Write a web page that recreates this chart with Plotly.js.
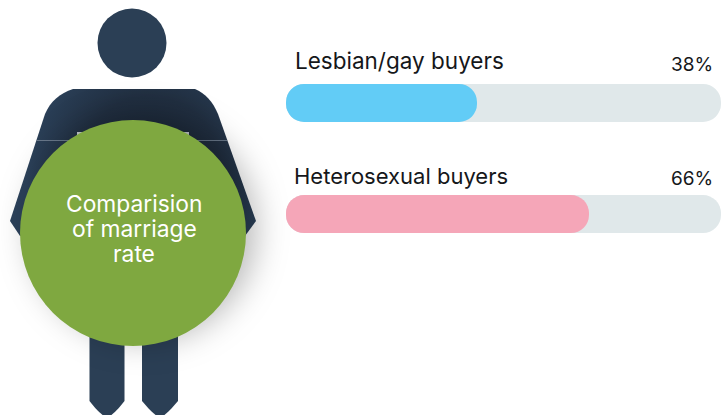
<!DOCTYPE html>
<html>
<head>
<meta charset="utf-8">
<script src="https://cdn.plot.ly/plotly-3.0.1.min.js"></script>
<style>html,body{margin:0;padding:0;background:#fff;overflow:hidden}#chart{width:721px;height:415px}</style>
</head>
<body>
<div id="chart"></div>
<script>
const categories = ['Lesbian/gay buyers', 'Heterosexual buyers'];
const values = [38, 66];
const trackEnd = 99;
const barBase = -9.75;
const centerLines = ['Comparision', 'of marriage', 'rate'];

const W = 721, H = 415;
const ML = 286, MT = 84, MB = 182;
const PW = W - ML, PH = H - MT - MB;
const FONT = 'Inter, "Open Sans", sans-serif';
const fx = x => (x - ML) / PW;
const fy = y => 1 - (y - MT) / PH;
const px = s => s.replace(/(-?[\d.]+),(-?[\d.]+)/g, (m, x, y) => fx(+x).toFixed(5) + ',' + fy(+y).toFixed(5));
const navy = '#2b3f55';
const pathShape = (d, fill) => ({type: 'path', xref: 'paper', yref: 'paper', layer: 'below', path: px(d), fillcolor: fill, line: {width: 0}});
const circleShape = (cx, cy, r, fill) => ({
  type: 'circle', xref: 'paper', yref: 'paper', layer: 'below',
  x0: fx(cx - r), x1: fx(cx + r), y0: fy(cy + r), y1: fy(cy - r),
  fillcolor: fill, line: {width: 0}
});

const shapes = [
  circleShape(132, 43, 34.5, navy),
  pathShape('M 89.5,320 L 124.5,320 L 124.5,401 C 120,407 114,414 107,418 C 100,414 94,407 89.5,401 Z', navy),
  pathShape('M 142,320 L 178,320 L 178,401 C 173,407 167,414 160,418 C 153,414 147,407 142,401 Z', navy),
  pathShape('M 73,89 L 195,89 C 205,93 213,102 218,114 L 256,221 L 245,236 L 20,236 L 10,221 L 45,114 C 50,102 60,93 73,89 Z', navy),
  pathShape('M 77,132 L 189,132 L 189,140 L 77,140 Z', '#c9ced3'),
  pathShape('M 37,140 L 227,140 L 227,141 L 37,141 Z', '#69788a'),
  circleShape(133, 233, 113, '#7fa840')
];

const annotations = [];
const labelX = [293.5, 293];
const labelSize = [22.5, 22];
const labelY = [61, 176];
const pctY = [64, 178];
const textColor = '#15171a';
categories.forEach((c, i) => {
  annotations.push({x: fx(labelX[i]), y: fy(labelY[i]), xref: 'paper', yref: 'paper', text: c, showarrow: false,
    xanchor: 'left', yanchor: 'middle', borderpad: 0, font: {family: FONT, size: labelSize[i], color: textColor}});
  annotations.push({x: fx(714), y: fy(pctY[i]), xref: 'paper', yref: 'paper', text: values[i] + '%', showarrow: false,
    xanchor: 'right', yanchor: 'middle', borderpad: 0, font: {family: FONT, size: 19, color: textColor}});
});
centerLines.forEach((t, i) => {
  annotations.push({x: fx(134), y: fy(203 + 25 * i), xref: 'paper', yref: 'paper', text: t, showarrow: false,
    xanchor: 'center', yanchor: 'middle', borderpad: 0, font: {family: FONT, size: 22.8, color: '#ffffff'}});
});

const data = [
  {type: 'bar', orientation: 'h', y: categories, x: categories.map(() => trackEnd - barBase), base: barBase,
   marker: {color: '#e0e8ea', cornerradius: 19}, hoverinfo: 'skip'},
  {type: 'bar', orientation: 'h', y: categories, x: values.map(v => v - barBase), base: barBase,
   marker: {color: ['#62ccf6', '#f5a6b8'], cornerradius: 19}, hoverinfo: 'skip'}
];

const layout = {
  width: W, height: H,
  margin: {l: ML, r: 0, t: MT, b: MB, pad: 0},
  paper_bgcolor: 'rgba(0,0,0,0)', plot_bgcolor: 'rgba(0,0,0,0)',
  showlegend: false, barmode: 'overlay', bargap: 0.658,
  xaxis: {range: [barBase, trackEnd], visible: false, fixedrange: true},
  yaxis: {type: 'category', categoryorder: 'array', categoryarray: categories,
          range: [1.171, -0.171], visible: false, fixedrange: true},
  shapes, annotations
};

Plotly.newPlot('chart', data, layout, {displayModeBar: false, staticPlot: true}).then(gd => {
  const paths = gd.querySelectorAll('.layer-below .shapelayer path');
  const torso = paths[3], disc = paths[6];
  const svg = gd.querySelector('.main-svg');
  const ns = 'http://www.w3.org/2000/svg';
  const defs = svg.querySelector('defs') || svg.insertBefore(document.createElementNS(ns, 'defs'), svg.firstChild);
  const g = document.createElementNS(ns, 'radialGradient');
  g.setAttribute('id', 'torsoShade');
  g.setAttribute('gradientUnits', 'userSpaceOnUse');
  g.setAttribute('cx', 150); g.setAttribute('cy', 165); g.setAttribute('r', 125);
  [['0', '#1b2838'], ['0.55', '#212f41'], ['1', '#2c425b']].forEach(([o, c]) => {
    const s = document.createElementNS(ns, 'stop');
    s.setAttribute('offset', o); s.setAttribute('stop-color', c); g.appendChild(s);
  });
  defs.appendChild(g);
  if (torso) torso.style.fill = 'url(#torsoShade)';
  if (disc) disc.style.filter = 'drop-shadow(10px -5px 16px rgba(0,0,0,0.28))';
});
</script>
</body>
</html>
